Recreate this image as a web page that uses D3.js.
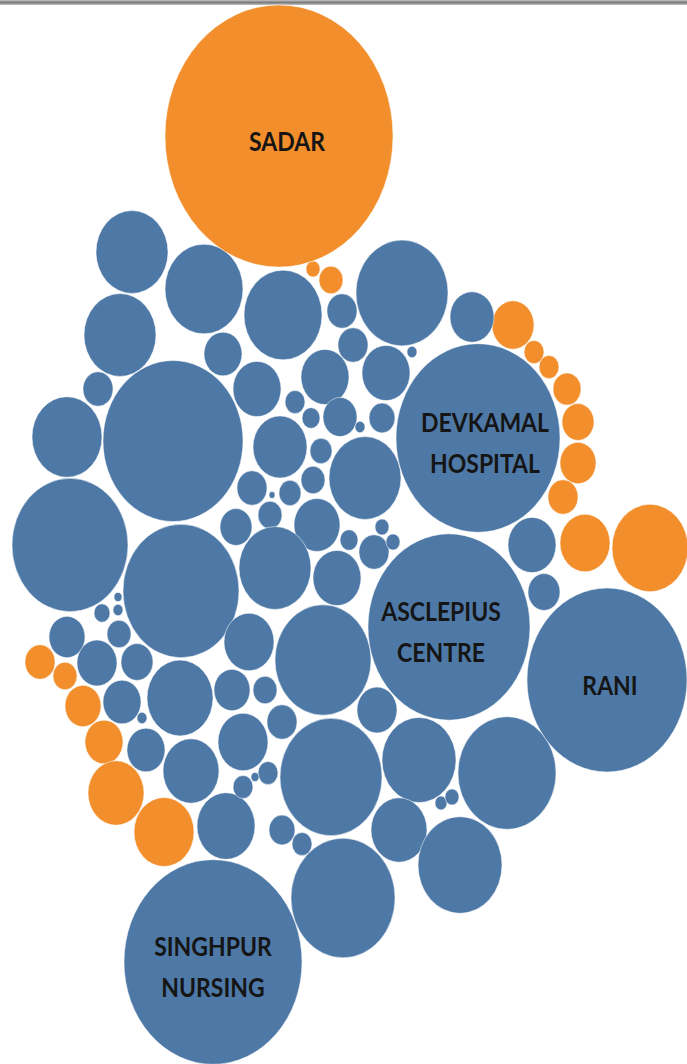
<!DOCTYPE html>
<html>
<head>
<meta charset="utf-8">
<script src="https://cdn.jsdelivr.net/npm/d3@7"></script>
<style>
  html, body { margin: 0; padding: 0; background: #fff; }
  #chart { width: 687px; height: 1064px; }
</style>
</head>
<body>
<div id="chart"></div>
<script>
// labelled bubbles: name lines, group, layout x, layout y, value
const labelNames = [["SADAR"], ["DEVKAMAL", "HOSPITAL"], ["ASCLEPIUS", "CENTRE"], ["RANI"], ["SINGHPUR", "NURSING"]];
const labelGroups = ["orange", "blue", "blue", "blue", "blue"];
const labelX = [279, 478, 449, 607, 213];
const labelY = [136, 438, 627, 680, 962];
const labelValues = [12996, 6724, 6561, 6400, 7921];

// unlabelled orange bubbles [layout x, layout y, value]
const orangeBubbles = [
  [313, 269, 49], [331, 280, 144], [513, 325, 441], [534, 352, 100],
  [549, 367, 100], [567, 389, 196], [578, 422, 256], [578, 463, 324],
  [563, 497, 225], [585, 543, 625], [650, 548, 1444], [40, 662, 225],
  [65, 676, 144], [83, 706, 324], [104, 742, 361], [116, 793, 784],
  [164, 832, 900]
];

// unlabelled blue bubbles [layout x, layout y, value]
const blueBubbles = [
  [132, 252, 1296], [204, 289, 1521], [120, 335, 1296], [223, 354, 361],
  [98, 389, 225], [173, 441, 4900], [67, 437, 1225], [70, 545, 3364],
  [181, 591, 3364], [283, 315, 1521], [402, 293, 2116], [342, 311, 225],
  [353, 345, 225], [412, 352, 25], [472, 317, 484], [386, 373, 576],
  [325, 377, 576], [257, 389, 576], [295, 402, 100], [311, 418, 81],
  [340, 417, 289], [382, 418, 169], [360, 427, 25], [280, 447, 729],
  [365, 478, 1296], [321, 451, 121], [313, 480, 144], [252, 488, 225],
  [290, 493, 121], [272, 495, 9], [270, 515, 144], [317, 525, 529],
  [236, 527, 256], [382, 527, 49], [349, 540, 81], [374, 552, 225],
  [393, 542, 49], [275, 568, 1296], [337, 578, 576], [532, 545, 576],
  [544, 592, 256], [67, 637, 324], [102, 613, 64], [118, 610, 25],
  [118, 597, 16], [119, 634, 144], [97, 663, 400], [137, 662, 256],
  [122, 702, 361], [142, 718, 25], [180, 698, 1089], [146, 750, 361],
  [191, 771, 784], [226, 826, 841], [232, 690, 324], [243, 742, 625],
  [249, 642, 625], [323, 660, 2304], [265, 690, 144], [282, 722, 225],
  [377, 710, 400], [331, 777, 2601], [419, 760, 1369], [268, 773, 100],
  [255, 777, 16], [243, 787, 100], [441, 803, 36], [452, 797, 49],
  [399, 830, 784], [507, 773, 2401], [460, 865, 1764], [282, 830, 169],
  [302, 844, 100], [343, 898, 2704]
];

const width = 687, height = 1064;
const stretch = 1.15; // picture is taller than wide

const colors = { orange: "#f28e2b", blue: "#4e79a7" };
// small nudges of the label text inside its bubble
const labelNudge = [8, 7, -8, 3, 0];

const x = d3.scaleLinear().domain([0, 687]).range([0, width]);
const y = d3.scaleLinear().domain([0, 1064]).range([0, height]);
const r = d3.scaleSqrt().domain([0, 12996]).range([0, 114]);

const bubbles = []
  .concat(orangeBubbles.map(d => ({ x: d[0], y: d[1], value: d[2], group: "orange" })))
  .concat(blueBubbles.map(d => ({ x: d[0], y: d[1], value: d[2], group: "blue" })))
  .concat(labelNames.map((n, i) => ({
    x: labelX[i], y: labelY[i], value: labelValues[i], group: labelGroups[i], name: n, nudge: labelNudge[i]
  })));

const svg = d3.select("#chart").append("svg")
  .attr("width", width)
  .attr("height", height);

// window frame line at the very top
svg.append("rect").attr("x", 0).attr("y", 0).attr("width", width).attr("height", 5).attr("fill", "#b4b4b4");
svg.append("rect").attr("x", 0).attr("y", 1.5).attr("width", width).attr("height", 2).attr("fill", "#7a7a7a");

svg.append("g")
  .selectAll("ellipse")
  .data(bubbles)
  .join("ellipse")
    .attr("cx", d => x(d.x))
    .attr("cy", d => y(d.y))
    .attr("rx", d => r(d.value))
    .attr("ry", d => r(d.value) * stretch)
    .attr("fill", d => colors[d.group])
    .attr("stroke", "#ffffff")
    .attr("stroke-opacity", 0.5)
    .attr("stroke-width", 1);

const labels = svg.append("g")
  .selectAll("g")
  .data(bubbles.filter(d => d.name))
  .join("g")
    .attr("transform", d => `translate(${x(d.x) + d.nudge},${y(d.y) + 5}) scale(1,${stretch})`);

labels.each(function(d) {
  const lineH = 36;
  const n = d.name.length;
  d3.select(this).selectAll("text")
    .data(d.name)
    .join("text")
      .attr("x", 0)
      .attr("y", (t, i) => (i - (n - 1) / 2) * lineH)
      .attr("dy", "0.36em")
      .attr("text-anchor", "middle")
      .attr("font-family", "Lato, 'Open Sans', sans-serif")
      .attr("font-weight", 700)
      .attr("font-size", 23)
      .attr("fill", "#151515")
      .text(t => t);
});
</script>
</body>
</html>
